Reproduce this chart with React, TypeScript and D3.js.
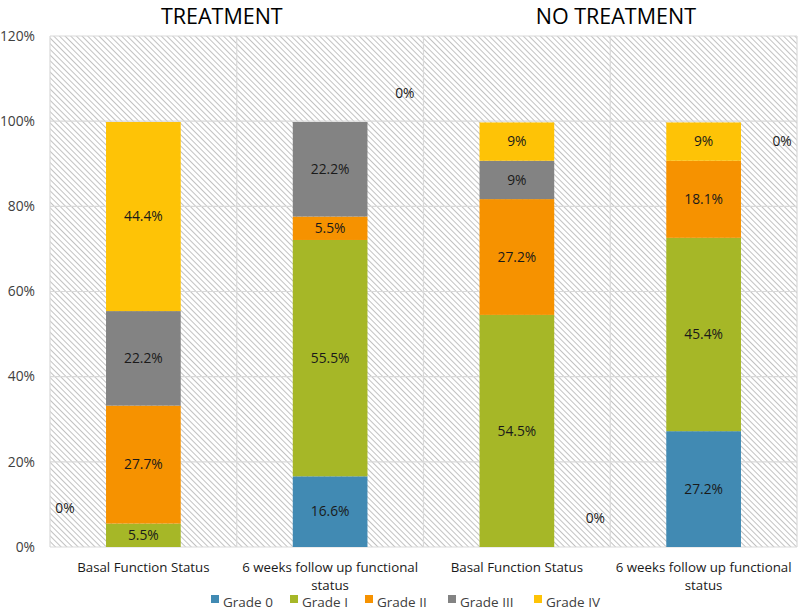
import React from "react";
import * as d3 from "d3";

const categories = ["Basal Function Status", "6 weeks follow up functional status", "Basal Function Status", "6 weeks follow up functional status"];
const categoryLines = [["Basal Function Status"], ["6 weeks follow up functional", "status"], ["Basal Function Status"], ["6 weeks follow up functional", "status"]];
const groups = ["TREATMENT", "NO TREATMENT"];
const seriesNames = ["Grade 0", "Grade I", "Grade II", "Grade III", "Grade IV"];
const grade0 = [0, 16.6, 0, 27.2];
const grade1 = [5.5, 55.5, 54.5, 45.4];
const grade2 = [27.7, 5.5, 27.2, 18.1];
const grade3 = [22.2, 22.2, 9, 0];
const grade4 = [44.4, 0, 9, 9];
const yTicks = [0, 20, 40, 60, 80, 100, 120];
// stray "0%" labels: category index, offset (fraction of band), value
const zeroCats = [0, 1, 2, 3];
const zeroOffsets = [-0.42, 0.4, 0.42, 0.42];
const zeroValues = [9.2, 106.6, 6.8, 95.3];

const colors = ["#418AB3", "#A6B727", "#F69200", "#838383", "#FEC306"];

const W = 800, H = 616;
const left = 50, right = 797, top = 36, bottom = 547;
const FONT = "'Open Sans', sans-serif";

export default function App() {
  const series = [grade0, grade1, grade2, grade3, grade4];
  const x = d3.scaleBand<number>().domain(d3.range(categories.length)).range([left, right]).paddingInner(0).paddingOuter(0);
  const y = d3.scaleLinear().domain([0, 120]).range([bottom, top]);
  const bw = x.bandwidth() * 0.4;
  const table = categories.map((c, i) => {
    const o: any = { idx: i };
    seriesNames.forEach((s, k) => (o[s] = series[k][i]));
    return o;
  });
  const stacked = d3.stack<any>().keys(seriesNames)(table);
  const fmt = (v: number) => `${v}%`;

  const legendX = [211, 290, 365, 448, 534];
  const groupFactor = [0.92, 1.03];

  return (
    <svg width={W} height={H} style={{ position: "absolute", left: 0, top: 0, background: "#fff" }} fontFamily={FONT}>
      <defs>
        <pattern id="hatch" patternUnits="userSpaceOnUse" width={4} height={4} patternTransform="rotate(-45)">
          <line x1={0.5} y1={0} x2={0.5} y2={4} stroke="#c2c2c2" strokeWidth={1} />
        </pattern>
      </defs>
      <rect x={left} y={top} width={right - left} height={bottom - top} fill="url(#hatch)" />
      {yTicks.map((t) => (
        <line key={t} x1={left} x2={right} y1={y(t)} y2={y(t)} stroke="#d9d9d9" strokeWidth={1.2} />
      ))}
      {d3.range(categories.length + 1).map((i) => {
        const xx = i < categories.length ? x(i)! : right;
        return <line key={i} x1={xx} x2={xx} y1={top} y2={bottom} stroke="#d9d9d9" strokeWidth={1.2} />;
      })}
      {yTicks.map((t) => (
        <text key={t} x={35} y={y(t)} dy="0.35em" textAnchor="end" fontSize={13.8} fill="#404040">{fmt(t)}</text>
      ))}
      {stacked.map((s, k) =>
        s.map((d, i) => {
          const v = series[k][i];
          if (!v) return null;
          const x0 = x(i)! + (x.bandwidth() - bw) / 2;
          return (
            <g key={`${k}-${i}`}>
              <rect x={x0} y={y(d[1])} width={bw} height={y(d[0]) - y(d[1])} fill={colors[k]} />
              <text x={x0 + bw / 2} y={(y(d[0]) + y(d[1])) / 2} dy="0.35em" textAnchor="middle" fontSize={13.8} fill="#1a1a1a">{fmt(v)}</text>
            </g>
          );
        })
      )}
      {zeroCats.map((c, i) => (
        <text key={i} x={x(c)! + x.bandwidth() / 2 + zeroOffsets[i] * x.bandwidth()} y={y(zeroValues[i])} dy="0.35em" textAnchor="middle" fontSize={13.8} fill="#1a1a1a">0%</text>
      ))}
      {categoryLines.map((lines, i) =>
        lines.map((l, j) => (
          <text key={`${i}-${j}`} x={x(i)! + x.bandwidth() / 2} y={572 + j * 18} textAnchor="middle" fontSize={13.3} fill="#1a1a1a">{l}</text>
        ))
      )}
      {groups.map((g, i) => (
        <text key={g} x={x(i * 2)! + x.bandwidth() * groupFactor[i]} y={24} textAnchor="middle" fontSize={21.5} fill="#000">{g}</text>
      ))}
      {seriesNames.map((s, k) => (
        <g key={s}>
          <rect x={legendX[k]} y={595} width={8} height={8} fill={colors[k]} />
          <text x={legendX[k] + 12} y={607} fontSize={13.5} fill="#404040">{s}</text>
        </g>
      ))}
    </svg>
  );
}
